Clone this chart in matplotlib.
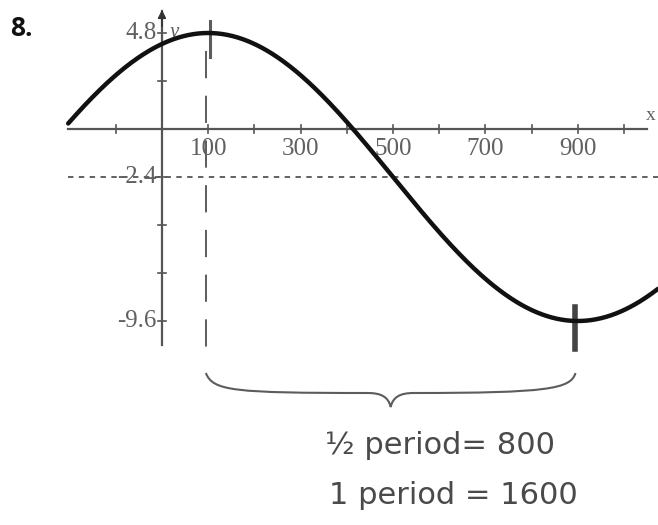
import numpy as np
import matplotlib.pyplot as plt
from matplotlib.path import Path
from matplotlib.patches import PathPatch

# sinusoid
peak_x, peak_y = 100, 4.8
trough_x, trough_y = 900, -9.6
midline = -2.4
x_tick_labels = [100, 300, 500, 700, 900]
y_tick_labels = [4.8, -2.4, -9.6]
notes = ["½ period= 800", "1 period = 1600"]

period = 2 * (trough_x - peak_x)
amp = (peak_y - trough_y) / 2

fig = plt.figure(figsize=(6.58, 5.25), dpi=100)
ax = fig.add_axes([0, 0, 1, 1])
ax.set_xlim(-350.6, 1073.6)
ax.set_ylim(-19.8, 6.45)
ax.axis("off")

axc = "#555555"
txtc = "#606060"
pencil = "#5c5c5c"

# axes with little cross ticks
ax.plot([-203, 1050], [0, 0], c=axc, lw=1.6, zorder=2)
ax.plot([0, 0], [-10.8, 5.9], c=axc, lw=1.6, zorder=2)
ax.annotate("", xy=(0, 6.1), xytext=(0, 5.0),
            arrowprops=dict(arrowstyle="-|>", color="#333333", lw=1.2, mutation_scale=12))
for xt in range(-100, 1100, 100):
    ax.plot([xt, xt], [-0.2, 0.2], c=axc, lw=1.2)
for yt in np.arange(-9.6, 5.0, 2.4):
    ax.plot([-8, 8], [yt, yt], c=axc, lw=1.2)

ax.text(1047, 0.25, "x", fontsize=14, family="Liberation Serif", color=txtc, ha="left", va="bottom")
ax.text(16, 4.8, "y", fontsize=15, family="Liberation Serif", style="italic", color=txtc, ha="left", va="center")

for xt in x_tick_labels:
    ax.text(xt, -0.45, str(xt), fontsize=18, family="Liberation Serif", color=txtc, ha="center", va="top")
for yt in y_tick_labels:
    ax.text(-12, yt, f"{yt:g}", fontsize=18, family="Liberation Serif", color=txtc, ha="right", va="center")

# midline
ax.plot([-203, 1073.6], [midline, midline], c=axc, lw=1.3, ls=(0, (3, 3)))

# the curve
x = np.linspace(-203, 1073.6, 600)
y = midline + amp * np.cos(2 * np.pi * (x - peak_x) / period)
ax.plot(x, y, c="#111111", lw=3.2, solid_capstyle="round", zorder=3)

# pencil marks at max and min
ax.plot([peak_x + 5, peak_x + 5], [3.6, 5.4], c=pencil, lw=2.2)
ax.plot([trough_x - 5, trough_x - 5], [-11.0, -8.9], c="#444444", lw=4)
ax.plot([peak_x - 5, peak_x - 5], [3.9, -11.6], c=pencil, lw=1.4, ls=(0, (14, 9)))

# brace under the half period
bx0, bx1 = peak_x - 5, trough_x - 5
bm = (bx0 + bx1) / 2
verts = [(bx0, -12.2), (bx0 + 15, -13.1), (bx0 + 60, -13.2), (bm - 50, -13.2),
         (bm - 20, -13.2), (bm - 5, -13.4), (bm, -13.9),
         (bm + 5, -13.4), (bm + 20, -13.2), (bm + 50, -13.2),
         (bx1 - 60, -13.2), (bx1 - 10, -13.0), (bx1, -12.2)]
codes = [Path.MOVETO] + [Path.CURVE4] * 12
ax.add_patch(PathPatch(Path(verts, codes), fill=False, ec=pencil, lw=1.5))

ax.text(352, -15.8, notes[0], fontsize=22, family="DejaVu Sans", color="#4a4a4a", ha="left", va="center")
ax.text(362, -18.3, notes[1], fontsize=22, family="DejaVu Sans", color="#4a4a4a", ha="left", va="center")

fig.text(10 / 658, 1 - 29 / 525, "8.", fontsize=19, weight="bold", family="Open Sans", color="#111111",
         ha="left", va="center")

fig.savefig("out.png", dpi=100, facecolor="white")
